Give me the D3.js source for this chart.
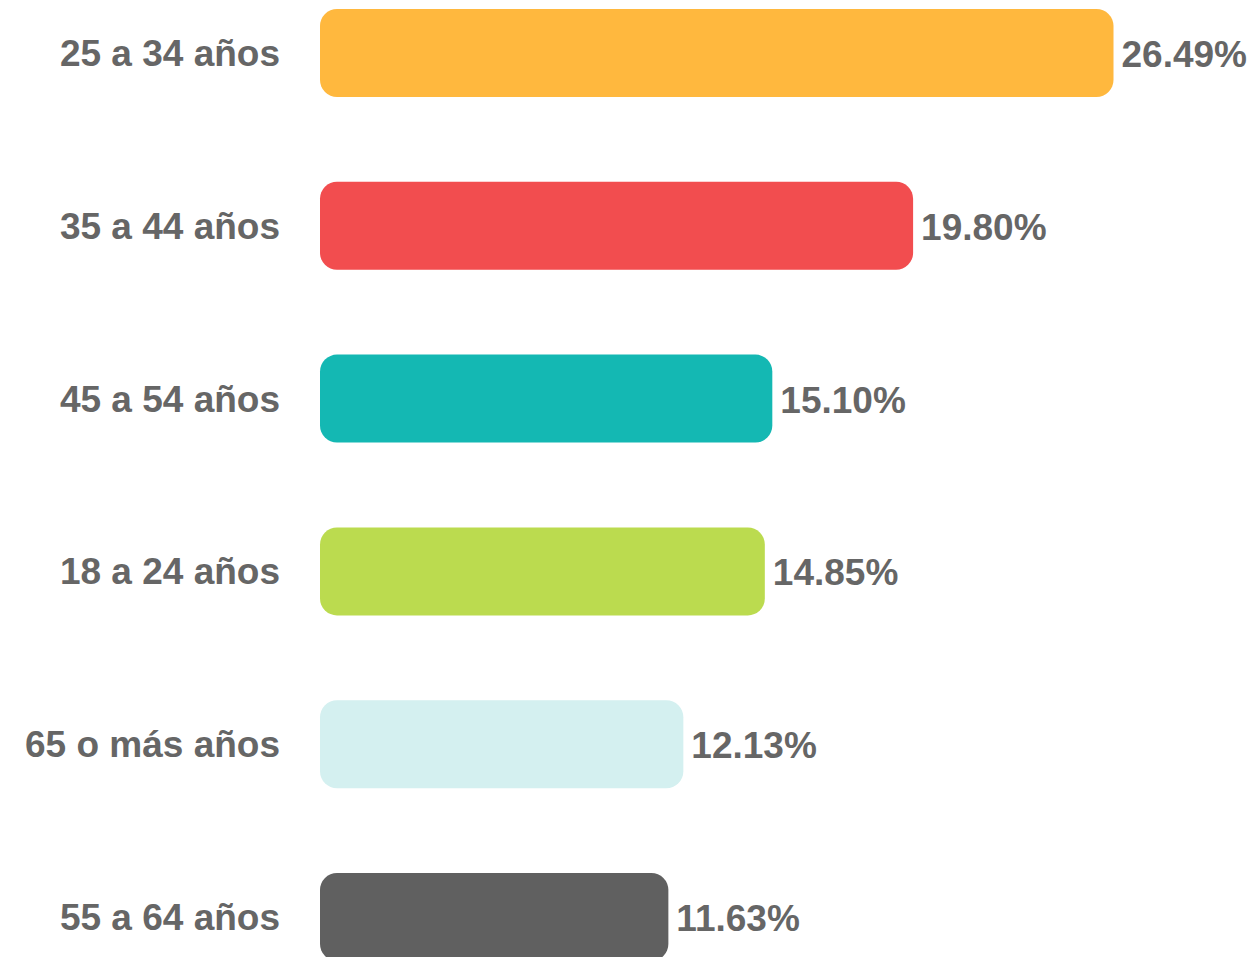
<!DOCTYPE html>
<html><head><meta charset="utf-8">
<script src="https://cdn.jsdelivr.net/npm/d3@7"></script>
<style>html,body{margin:0;padding:0;background:#fff;overflow:hidden}</style>
</head><body>
<svg id="c" width="1260" height="957"></svg>
<script>
const categories = ["25 a 34 años","35 a 44 años","45 a 54 años","18 a 24 años","65 o más años","55 a 64 años"];
const values = [26.49, 19.80, 15.10, 14.85, 12.13, 11.63];
const valueLabels = ["26.49%","19.80%","15.10%","14.85%","12.13%","11.63%"];
const colors = ["#FFB83E","#F24D4F","#14B8B3","#BBDB4F","#D4F0F0","#606060"];

const svg = d3.select("#c");
const x = d3.scaleLinear().domain([0, 26.49]).range([320, 1113.5]);
const step = 172.8, bh = 88;
const yPos = d3.scaleOrdinal().domain(categories).range(categories.map((c,i)=>9 + i*step));

const fs = 37;
const g = svg.append("g");
categories.forEach((c,i)=>{
  const top = yPos(c), cy = top + bh/2;
  g.append("rect").attr("x", x(0)).attr("y", top).attr("width", x(values[i]) - x(0)).attr("height", bh)
    .attr("rx", 17).attr("ry", 17).attr("fill", colors[i]);
  g.append("text").attr("x", 280).attr("y", cy + 13).attr("text-anchor","end")
    .attr("font-family","'Liberation Sans', Arial, sans-serif").attr("font-weight","bold")
    .attr("font-size", fs).attr("fill","#666").text(c);
  g.append("text").attr("x", x(values[i]) + 8).attr("y", cy + 14).attr("text-anchor","start")
    .attr("font-family","'Liberation Sans', Arial, sans-serif").attr("font-weight","bold")
    .attr("font-size", fs).attr("fill","#666").text(valueLabels[i]);
});
</script>
</body></html>
